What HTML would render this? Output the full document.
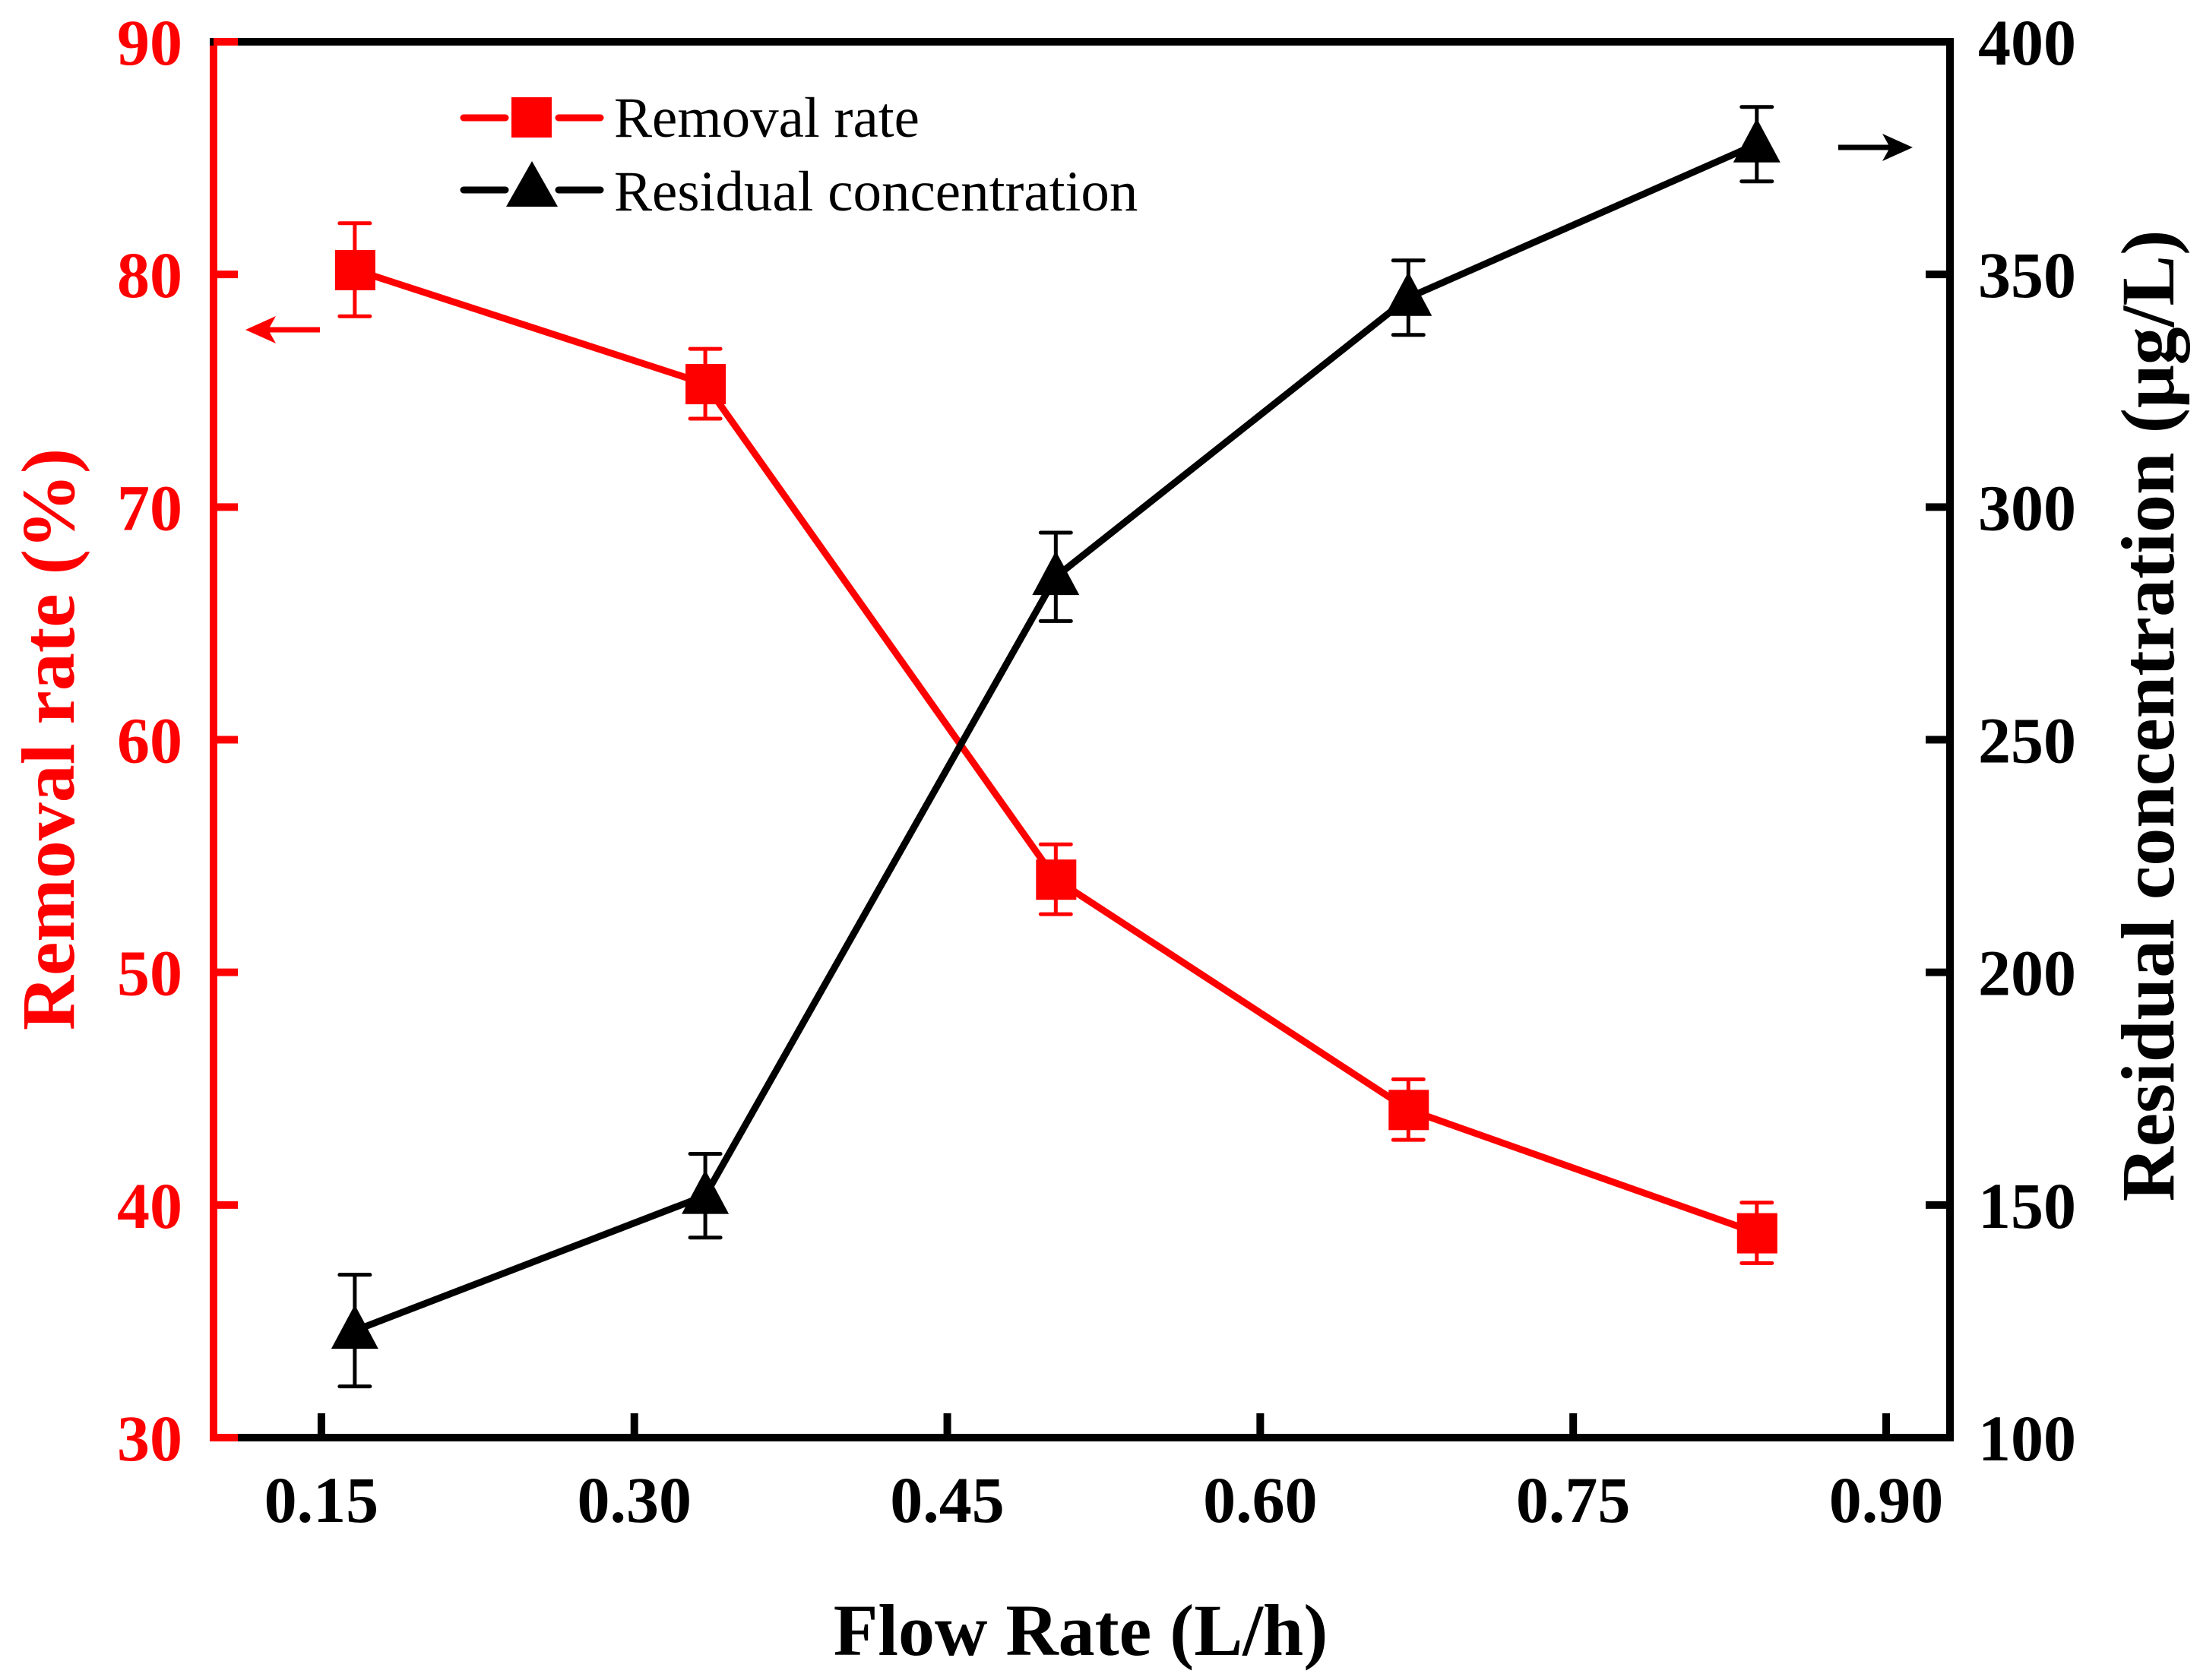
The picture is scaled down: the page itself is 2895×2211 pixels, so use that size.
<!DOCTYPE html>
<html><head><meta charset="utf-8"><style>html,body{margin:0;padding:0;background:#fff}svg{display:block}</style></head>
<body>
<svg id="chart" width="2895" height="2211" xmlns="http://www.w3.org/2000/svg" font-family="'Liberation Serif', serif">
<g id="marks"></g>
<g id="axes"></g>
</svg>
<script>
const flowRates = [0.166, 0.334, 0.502, 0.671, 0.838];
const removalRate = [80.2, 75.3, 54.0, 44.1, 38.8];
const removalErr = [2.0, 1.5, 1.5, 1.3, 1.3];
const residualConc = [123, 152, 285, 345, 378];
const residualErr = [12, 9, 9.5, 8, 8];
const xTicks = [0.15, 0.30, 0.45, 0.60, 0.75, 0.90];
const xTickLabels = ["0.15","0.30","0.45","0.60","0.75","0.90"];
const yLeftTicks = [30,40,50,60,70,80,90];
const yRightTicks = [100,150,200,250,300,350,400];

const L=281,R=2566,T=55,B=1892;
const xMin=0.0983,xMax=0.9306;
const X=v=>L+(v-xMin)/(xMax-xMin)*(R-L);
const YL=v=>B-(v-30)/60*(B-T);
const YR=v=>B-(v-100)/300*(B-T);
const NS="http://www.w3.org/2000/svg";
function mk(tag,attrs,parent,text){const e=document.createElementNS(NS,tag);for(const k in attrs)e.setAttribute(k,attrs[k]);if(text!==undefined)e.textContent=text;parent.appendChild(e);return e;}
const marks=document.getElementById('marks'), axes=document.getElementById('axes');
const RED="#ff0000";

let e;
e=mk('polyline',{points:flowRates.map((x,i)=>X(x)+','+YL(removalRate[i])).join(' '),fill:'none',stroke:RED,'stroke-width':9,'stroke-linejoin':'round'},marks);


e=mk('polyline',{points:flowRates.map((x,i)=>X(x)+','+YR(residualConc[i])).join(' '),fill:'none',stroke:'#000','stroke-width':9,'stroke-linejoin':'round'},marks);



flowRates.forEach((x,i)=>{
  const cx=X(x);
  const y=YL(removalRate[i]),y1=YL(removalRate[i]+removalErr[i]),y2=YL(removalRate[i]-removalErr[i]);
  let g=mk('g',{},marks);
  
  
  mk('path',{d:`M${cx},${y1}V${y2}M${cx-20},${y1}H${cx+20}M${cx-20},${y2}H${cx+20}`,stroke:RED,'stroke-width':5,'stroke-linecap':'round'},g);
  e=mk('rect',{x:cx-26,y:y-26,width:53,height:53,fill:RED},marks);
  
  
  const r=YR(residualConc[i]),r1=YR(residualConc[i]+residualErr[i]),r2=YR(residualConc[i]-residualErr[i]);
  g=mk('g',{},marks);
  
  
  mk('path',{d:`M${cx},${r1}V${r2}M${cx-20},${r1}H${cx+20}M${cx-20},${r2}H${cx+20}`,stroke:'#000','stroke-width':5,'stroke-linecap':'round'},g);
  e=mk('polygon',{points:`${cx},${r-34} ${cx-31},${r+24} ${cx+31},${r+24}`,fill:'#000'},marks);
  
  
});

e=mk('path',{d:`M${L-5},${T}H${R}V${B}H${L}`,fill:'none',stroke:'#000','stroke-width':10},axes);


e=mk('line',{x1:L,y1:T+5,x2:L,y2:B+5,stroke:RED,'stroke-width':10},axes);



xTicks.forEach((v,i)=>{
  const x=X(v);
  mk('line',{x1:x,y1:B,x2:x,y2:B-32,stroke:'#000','stroke-width':10},axes);
  e=mk('text',{x:x,y:2003,'font-size':86,'font-weight':'bold','text-anchor':'middle',fill:'#000'},axes,xTickLabels[i]);
  
  
});
yLeftTicks.forEach(v=>{
  const y=YL(v);
  mk('line',{x1:L,y1:y,x2:L+32,y2:y,stroke:RED,'stroke-width':10},axes);
  e=mk('text',{x:240,y:y+30,'font-size':86,'font-weight':'bold','text-anchor':'end',fill:RED},axes,String(v));
  
  
});
yRightTicks.forEach(v=>{
  const y=YR(v);
  mk('line',{x1:R,y1:y,x2:R-32,y2:y,stroke:'#000','stroke-width':10},axes);
  e=mk('text',{x:2603,y:y+30,'font-size':86,'font-weight':'bold','text-anchor':'start',fill:'#000'},axes,String(v));
  
  
});

e=mk('text',{x:1422,y:2178,'font-size':96,'font-weight':'bold','text-anchor':'middle',fill:'#000'},axes,'Flow Rate (L/h)');


e=mk('text',{x:0,y:0,'font-size':100,'font-weight':'bold','text-anchor':'middle',fill:RED,transform:'translate(97,973) rotate(-90)'},axes,'Removal rate (%)');


e=mk('text',{x:0,y:0,'font-size':100,'font-weight':'bold','text-anchor':'middle',fill:'#000',transform:'translate(2860,942) rotate(-90)'},axes,'Residual concentration (μg/L)');



let a=mk('g',{},axes);


mk('path',{d:'M421,434H335',fill:'none',stroke:RED,'stroke-width':7},a);
mk('polygon',{points:'323,434 363,416 353,434 363,452',fill:RED},a);
a=mk('g',{},axes);


mk('path',{d:'M2419,194H2505',fill:'none',stroke:'#000','stroke-width':7},a);
mk('polygon',{points:'2517,194 2477,176 2487,194 2477,212',fill:'#000'},a);

let lg=mk('g',{},axes);


mk('path',{d:'M610,155H665M735,155H790',stroke:RED,'stroke-width':9,'stroke-linecap':'round'},lg);
mk('rect',{x:673,y:128,width:53,height:53,fill:RED},lg);
mk('text',{x:808,y:180,'font-size':75,fill:'#000'},lg,'Removal rate');
lg=mk('g',{},axes);


mk('path',{d:'M610,250H665M735,250H790',stroke:'#000','stroke-width':9,'stroke-linecap':'round'},lg);
mk('polygon',{points:'700,212 666,272 734,272',fill:'#000'},lg);
mk('text',{x:808,y:277,'font-size':75,fill:'#000'},lg,'Residual concentration');
</script>
</body></html>
